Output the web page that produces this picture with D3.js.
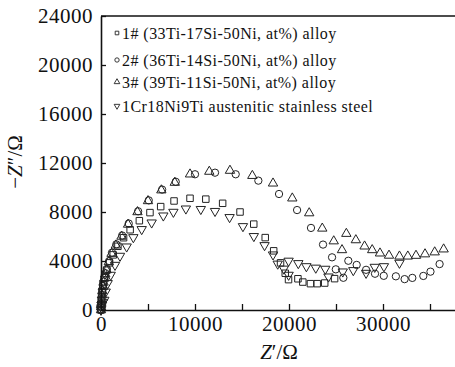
<!DOCTYPE html>
<html>
<head>
<meta charset="utf-8">
<script src="https://cdn.jsdelivr.net/npm/d3@7/dist/d3.min.js"></script>
<style>
  html, body { margin: 0; padding: 0; background: #fff; }
  svg { display: block; }
  text { font-family: "Liberation Serif", "Times New Roman", serif; fill: #111; }
</style>
</head>
<body>
<svg id="chart" width="455" height="367"></svg>
<script>
// ---- Data ----
const seriesNames = [
  "1# (33Ti-17Si-50Ni, at%) alloy",
  "2# (36Ti-14Si-50Ni, at%) alloy",
  "3# (39Ti-11Si-50Ni, at%) alloy",
  "1Cr18Ni9Ti austenitic stainless steel"
];
const s1x = [0, 20, 60, 120, 220, 380, 600, 900, 1300, 1800, 2400, 3100, 4080, 5210, 6350, 7770, 9470, 11150, 12940, 14790, 16250, 17470, 18370, 19100, 19600, 19950, 20950, 21470, 22280, 23000, 23800, 24850];
const s1y = [0, 450, 950, 1500, 2050, 2650, 3250, 3850, 4500, 5200, 5900, 6550, 7290, 7950, 8440, 8900, 9120, 9050, 8710, 8000, 7010, 5910, 4830, 3850, 3000, 2480, 2550, 2280, 2150, 2150, 2200, 2560];
const s2x = [0, 10, 30, 60, 100, 150, 210, 280, 360, 480, 620, 870, 1170, 1630, 2250, 2950, 3950, 5080, 6500, 7950, 10000, 12130, 14330, 16740, 18940, 20860, 22340, 23620, 24580, 24980, 25780, 26310, 27200, 28200, 29150, 30080, 31370, 32300, 33120, 34290, 35050, 36020];
const s2y = [0, 250, 520, 870, 1270, 1620, 1970, 2320, 2650, 3000, 3350, 4000, 4680, 5360, 6080, 7060, 8060, 8950, 9830, 10470, 11080, 11210, 11080, 10560, 9470, 8160, 6700, 5340, 4300, 3320, 2630, 4020, 3680, 3280, 2960, 2790, 2750, 2520, 2620, 2780, 3130, 3750];
const s3x = [0, 10, 25, 55, 90, 140, 200, 270, 340, 460, 590, 830, 1120, 1580, 2180, 2880, 3880, 5000, 6420, 7850, 9470, 11520, 13720, 16100, 18300, 20350, 22150, 23540, 24760, 25640, 26100, 27110, 28040, 28850, 29680, 30640, 31750, 32640, 33510, 34470, 35500, 36450];
const s3y = [0, 230, 480, 820, 1200, 1560, 1900, 2250, 2580, 2920, 3260, 3920, 4600, 5280, 6000, 6980, 8000, 8900, 9780, 10400, 11080, 11300, 11380, 10960, 10340, 9120, 7910, 6660, 5620, 4900, 6230, 5710, 5200, 4900, 4630, 4450, 4380, 4380, 4440, 4560, 4720, 4960];
const s4x = [0, 40, 100, 200, 350, 500, 710, 1030, 1490, 2020, 2730, 3440, 4330, 5390, 6630, 7700, 9030, 10620, 12130, 13680, 15100, 16260, 17400, 18300, 18800, 19450, 19960, 19960, 20990, 21850, 22850, 23860, 24200, 25720, 26840, 28200, 29120, 30100, 31750];
const s4y = [0, 200, 400, 620, 820, 1490, 2180, 2860, 3670, 4410, 5170, 5930, 6590, 7130, 7700, 8000, 8270, 8230, 8070, 7570, 6830, 6020, 5280, 4520, 3770, 3360, 2860, 4010, 3810, 3560, 3440, 3350, 2720, 3130, 3240, 3020, 3510, 3560, 3840];
const xTicks = [0, 5000, 10000, 15000, 20000, 25000, 30000, 35000];
const xTickLabels = ["0", "", "10000", "", "20000", "", "30000", ""];
const yTicks = [0, 4000, 8000, 12000, 16000, 20000, 24000];
const yTickLabels = ["0", "4000", "8000", "12000", "16000", "20000", "24000"];

// ---- Layout ----
const FONT = '"Liberation Serif", "Times New Roman", serif';
const svg = d3.select("#chart");
const mLeft = 101, mRight = 458.2, mTop = 16, mBottom = 310;
const x = d3.scaleLinear().domain([0, 38000]).range([mLeft, mRight]);
const y = d3.scaleLinear().domain([0, 24000]).range([mBottom, mTop]);

const series = [
  {xs: s1x, ys: s1y, type: d3.symbolSquare, size: 42, rot: 0, lsize: 13},
  {xs: s2x, ys: s2y, type: d3.symbolCircle, size: 42, rot: 0, lsize: 15},
  {xs: s3x, ys: s3y, type: d3.symbolTriangle, size: 38, rot: 0, lsize: 14},
  {xs: s4x, ys: s4y, type: d3.symbolTriangle, size: 38, rot: 180, lsize: 14}
];

// markers
const gMarks = svg.append("g");
series.forEach(s => {
  const pts = s.xs.map((v, i) => [v, s.ys[i]]);
  gMarks.append("g").selectAll("path").data(pts).join("path")
    .attr("d", d3.symbol().type(s.type).size(s.size))
    .attr("transform", d => `translate(${x(d[0])},${y(d[1])}) rotate(${s.rot})`)
    .attr("fill", "none")
    .attr("stroke", "#222")
    .attr("stroke-width", 1);
});

// axes
const xAxis = d3.axisBottom(x).tickValues(xTicks)
  .tickFormat((d, i) => xTickLabels[i]).tickSizeInner(-6).tickSizeOuter(0).tickPadding(6);
const gx = svg.append("g").attr("transform", `translate(0,${mBottom})`).call(xAxis);
const yAxis = d3.axisLeft(y).tickValues(yTicks)
  .tickFormat((d, i) => yTickLabels[i]).tickSizeInner(-5).tickSizeOuter(0).tickPadding(8);
const gy = svg.append("g").attr("transform", `translate(${mLeft},0)`).call(yAxis);
[gx, gy].forEach(g => {
  g.attr("font-family", FONT).attr("font-size", 21);
  g.select(".domain").attr("stroke", "#111").attr("stroke-width", 1.6);
  g.selectAll(".tick line").attr("stroke", "#111").attr("stroke-width", 1.3);
  g.selectAll(".tick text").attr("font-family", FONT).style("font-family", FONT)
    .style("font-size", "21px").style("letter-spacing", "0.5px").attr("fill", "#111");
});
// top border
svg.append("line").attr("x1", mLeft).attr("x2", 455).attr("y1", mTop).attr("y2", mTop)
  .attr("stroke", "#111").attr("stroke-width", 1.6);

// axis titles
const xt = svg.append("text").attr("x", 279).attr("y", 359).attr("text-anchor", "middle")
  .style("font-size", "21px");
xt.append("tspan").style("font-style", "italic").text("Z");
xt.append("tspan").text("\u2032/\u03A9");

const yt = svg.append("text").attr("transform", "translate(22,162) rotate(-90)")
  .attr("text-anchor", "middle").style("font-size", "21px");
yt.append("tspan").text("\u2212");
yt.append("tspan").style("font-style", "italic").text("Z");
yt.append("tspan").text("\u2033/\u03A9");

// legend
const legY = [33, 60, 82, 106];
const leg = svg.append("g");
series.forEach((s, i) => {
  leg.append("path")
    .attr("d", d3.symbol().type(s.type).size(s.lsize))
    .attr("transform", `translate(117,${legY[i]}) rotate(${s.rot})`)
    .attr("fill", "none").attr("stroke", "#222").attr("stroke-width", 0.9);
  leg.append("text").attr("x", 122).attr("y", legY[i] + 5.5)
    .style("font-size", "16px").style("letter-spacing", "0.45px")
    .text(seriesNames[i]);
});
</script>
</body>
</html>
